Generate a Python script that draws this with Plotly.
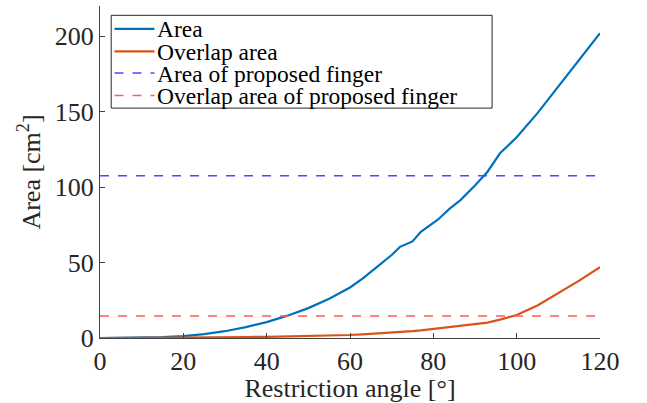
import plotly.graph_objects as go

angle = [0, 5, 10, 15, 20, 25, 30, 35, 40, 45, 50, 55, 60, 63, 66.5, 70, 72, 75, 77, 81, 84, 86.5, 90, 93, 96, 100, 105, 110, 115, 120]
area = [0, 0.05, 0.2, 0.6, 1.3, 2.6, 4.5, 7.2, 10.5, 14.8, 19.8, 26, 33.5, 39.4, 47.2, 55, 60.4, 64, 70.4, 78.2, 85.9, 91.4, 101, 110.2, 122.4, 133, 149, 166.5, 184.4, 202]
overlap = [0, 0.02, 0.05, 0.1, 0.2, 0.3, 0.45, 0.6, 0.8, 1.0, 1.3, 1.6, 2.0, 2.4, 2.9, 3.5, 3.9, 4.6, 5.1, 6.3, 7.4, 8.2, 9.2, 10.2, 12.2, 15.2, 21.5, 29.5, 38, 47]
proposed_area = 107.5
proposed_overlap = 14.6
x_ticks = [0, 20, 40, 60, 80, 100, 120]
y_ticks = [0, 50, 100, 150, 200]
legend_names = ["Area", "Overlap area", "Area of proposed finger", "Overlap area of proposed finger"]

FONT = "Liberation Serif, Times New Roman, serif"
AX = "#404040"
TXT = "#262626"
W, H = 647, 403
L, R, T, B = 99.5, 47, 6.4, 65.3
PW, PH = W - L - R, H - T - B

def px(x):
    return (x - L) / PW

def py(y):
    return (H - B - y) / PH

colors = ["#0072BD", "#D95319", "#4a4aff", "#ff5a5a"]
widths = [2.2, 2.2, 1.5, 1.5]
dashes = ["solid", "solid", "dash", "dash"]

fig = go.Figure()
ys = [area, overlap, [proposed_area] * 2, [proposed_overlap] * 2]
xs = [angle, angle, [0, 120], [0, 120]]
for i in range(4):
    fig.add_trace(go.Scatter(x=xs[i], y=ys[i], mode="lines", name=legend_names[i],
                             showlegend=False,
                             line=dict(color=colors[i], width=widths[i], dash=dashes[i])))

# manual legend (MATLAB style, compact rows)
fig.add_shape(type="rect", xref="paper", yref="paper",
              x0=px(110.7), x1=px(492), y0=py(108.3), y1=py(15.7),
              line=dict(color=TXT, width=1), fillcolor="white", layer="above")
row_y = [29.3, 51.7, 73.3, 95.7]
for i in range(4):
    fig.add_shape(type="line", xref="paper", yref="paper",
                  x0=px(114), x1=px(154), y0=py(row_y[i]), y1=py(row_y[i]),
                  line=dict(color=colors[i], width=widths[i], dash=dashes[i]), layer="above")
    fig.add_annotation(xref="paper", yref="paper", x=px(155), y=py(row_y[i] + 0.5),
                       xanchor="left", yanchor="middle", showarrow=False,
                       text=legend_names[i],
                       font=dict(family=FONT, size=23.5, color="#000000"))

fig.update_layout(
    width=W, height=H,
    margin=dict(l=L, r=R, t=T, b=B),
    paper_bgcolor="white", plot_bgcolor="white",
    font=dict(family=FONT, size=26, color=TXT),
    showlegend=False,
    xaxis=dict(range=[0, 120], tickvals=x_ticks, ticks="inside", ticklen=5,
               tickcolor=AX, showline=True, linecolor=AX, linewidth=1,
               showgrid=False, zeroline=False, mirror=False,
               title=dict(text="Restriction angle [°]", standoff=3,
                          font=dict(family=FONT, size=26, color=TXT)),
               tickfont=dict(family=FONT, size=26, color=TXT)),
    yaxis=dict(range=[0, 220], tickvals=y_ticks, ticks="inside", ticklen=5,
               tickcolor=AX, showline=True, linecolor=AX, linewidth=1,
               showgrid=False, zeroline=False, mirror=False,
               title=dict(text="Area [cm<sup>2</sup>]", standoff=6,
                          font=dict(family=FONT, size=26, color=TXT)),
               tickfont=dict(family=FONT, size=26, color=TXT)),
)

fig.write_html("out.html")
